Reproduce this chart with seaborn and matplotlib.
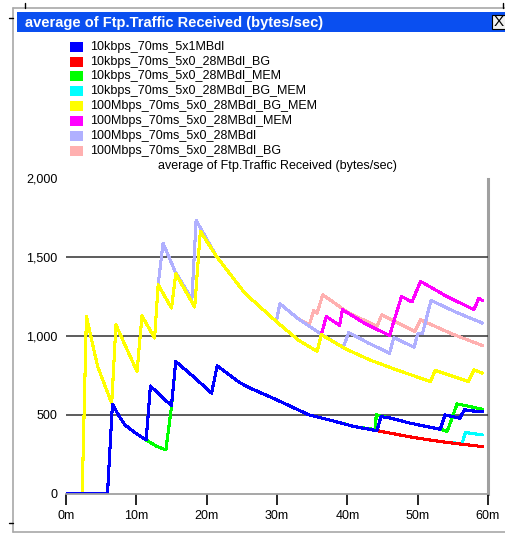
import matplotlib
matplotlib.use("Agg")
import matplotlib.pyplot as plt
from matplotlib.patches import Rectangle
from matplotlib.lines import Line2D
from matplotlib.ticker import FuncFormatter
import seaborn as sns
import pandas as pd

# ---------------------------------------------------------------- data
# time in minutes, traffic in bytes/sec
series_names = [
    "10kbps_70ms_5x1MBdl",
    "10kbps_70ms_5x0_28MBdl_BG",
    "10kbps_70ms_5x0_28MBdl_MEM",
    "10kbps_70ms_5x0_28MBdl_BG_MEM",
    "100Mbps_70ms_5x0_28MBdl_BG_MEM",
    "100Mbps_70ms_5x0_28MBdl_MEM",
    "100Mbps_70ms_5x0_28MBdl",
    "100Mbps_70ms_5x0_28MBdl_BG",
]
series_colors = ["#0000ff", "#ff0000", "#00ff00", "#00ffff",
                 "#ffff00", "#ff00ff", "#b0b0ff", "#ffb0b0"]

kbps_1mb_t = [0, 5.9, 6.6, 7.5, 8.4, 10.0, 11.4, 12.0, 13.3, 15.0, 15.6, 18.1,
              20.7, 21.5, 24.7, 26.2, 30.0, 34.5, 38.3, 41.0, 44.2, 44.8, 46.0,
              49.0, 53.2, 53.9, 56.0, 56.7, 57.2, 59.2]
kbps_1mb_v = [0, 0, 567, 495, 435, 380, 340, 683, 626, 558, 838, 743,
              637, 811, 704, 669, 594, 500, 457, 425, 399, 488, 480,
              446, 408, 499, 478, 535, 526, 520]

kbps_bg_t = [0, 5.9, 6.6, 7.5, 8.4, 10.0, 11.4, 12.0, 13.3, 15.0, 15.6, 18.1,
             20.7, 21.5, 24.7, 26.2, 30.0, 34.5, 38.3, 41.0, 44.2, 46.5, 49.5,
             54.0, 59.2]
kbps_bg_v = [0, 0, 567, 495, 435, 380, 340, 683, 626, 558, 838, 743,
             637, 811, 704, 669, 594, 500, 457, 425, 399, 380, 355,
             325, 298]

kbps_mem_t = [0, 5.9, 6.6, 7.5, 8.4, 10.0, 11.4, 12.9, 14.2, 15.0, 15.6, 18.1,
              20.7, 21.5, 24.7, 26.2, 30.0, 34.5, 38.3, 41.0, 44.0, 44.1, 44.8,
              46.0, 49.0, 53.2, 54.2, 55.6, 56.6, 59.2]
kbps_mem_v = [0, 0, 567, 495, 435, 380, 340, 300, 276, 552, 838, 743,
              637, 811, 704, 669, 594, 500, 457, 425, 405, 500, 490,
              480, 446, 408, 395, 569, 560, 535]

kbps_bg_mem_t = [0, 5.9, 6.6, 7.5, 8.4, 10.0, 11.4, 12.0, 13.3, 15.0, 15.6,
                 18.1, 20.7, 21.5, 24.7, 26.2, 30.0, 34.5, 38.3, 41.0, 44.2,
                 46.5, 49.5, 54.0, 56.3, 56.8, 59.2]
kbps_bg_mem_v = [0, 0, 567, 495, 435, 380, 340, 683, 626, 558, 838,
                 743, 637, 811, 704, 669, 594, 500, 457, 425, 399,
                 380, 355, 325, 317, 387, 372]

mbps_bg_mem_t = [0, 2.3, 2.9, 4.5, 6.5, 7.1, 10.1, 10.8, 12.6, 13.1, 15.0,
                 15.6, 18.3, 19.1, 21.4, 25.4, 29.9, 33.0, 35.7, 36.3, 39.9,
                 43.2, 47.0, 51.8, 52.5, 57.2, 58.0, 59.2]
mbps_bg_mem_v = [0, 0, 1124, 806, 573, 1071, 774, 1128, 987, 1325, 1177,
                 1395, 1184, 1665, 1505, 1273, 1092, 975, 902, 1008, 915,
                 848, 785, 711, 781, 711, 785, 764]

mbps_mem_t = [0, 2.3, 2.9, 4.5, 6.5, 7.1, 10.1, 10.8, 12.6, 13.1, 15.0,
              15.6, 18.3, 19.1, 21.4, 25.4, 29.9, 33.0, 35.7, 36.3, 37.0,
              38.9, 39.3, 42.5, 46.0, 47.7, 49.2, 50.4, 54.0, 58.0, 58.7, 59.2]
mbps_mem_v = [0, 0, 1124, 806, 573, 1071, 774, 1128, 987, 1325, 1177,
              1395, 1184, 1665, 1505, 1273, 1092, 975, 902, 1008, 1124,
              1067, 1167, 1080, 1003, 1251, 1216, 1347, 1255, 1167, 1241, 1224]

mbps_t = [0, 2.3, 2.9, 4.5, 6.5, 7.1, 10.1, 10.8, 12.6, 13.1, 13.8, 15.5,
          17.9, 18.5, 21.4, 25.4, 29.9, 30.4, 33.0, 36.4, 39.4, 40.2, 43.0,
          46.0, 46.6, 49.5, 50.0, 50.7, 51.9, 55.5, 59.2]
mbps_v = [0, 0, 1124, 806, 573, 1071, 774, 1128, 987, 1325, 1590, 1410,
          1234, 1734, 1505, 1273, 1092, 1205, 1110, 1008, 927, 1022, 955,
          891, 990, 929, 1014, 1018, 1226, 1150, 1082]

mbps_bg_t = [0, 2.3, 2.9, 4.5, 6.5, 7.1, 10.1, 10.8, 12.6, 13.1, 13.8, 15.5,
             17.9, 18.5, 21.4, 25.4, 29.9, 30.4, 33.0, 34.6, 35.2, 35.7, 36.5,
             40.0, 44.2, 44.9, 49.6, 50.4, 55.0, 59.2]
mbps_bg_v = [0, 0, 1124, 806, 573, 1071, 774, 1128, 987, 1325, 1590, 1410,
             1234, 1734, 1505, 1273, 1092, 1205, 1110, 1071, 1160, 1145, 1262,
             1152, 1061, 1135, 1029, 1103, 1011, 940]

series_t = [kbps_1mb_t, kbps_bg_t, kbps_mem_t, kbps_bg_mem_t,
            mbps_bg_mem_t, mbps_mem_t, mbps_t, mbps_bg_t]
series_v = [kbps_1mb_v, kbps_bg_v, kbps_mem_v, kbps_bg_mem_v,
            mbps_bg_mem_v, mbps_mem_v, mbps_v, mbps_bg_v]

y_ticks = [0, 500, 1000, 1500, 2000]
x_ticks = [0, 10, 20, 30, 40, 50, 60]
x_labels = ["0m", "10m", "20m", "30m", "40m", "50m", "60m"]
window_title = "average of Ftp.Traffic Received (bytes/sec)"
chart_title = "average of Ftp.Traffic Received (bytes/sec)"

frames = []
for name, t, v in zip(series_names, series_t, series_v):
    frames.append(pd.DataFrame({"series": name, "minutes": t, "traffic": v}))
df = pd.concat(frames, ignore_index=True)

# ---------------------------------------------------------------- figure
sns.set_theme(style="white")
plt.rcParams["font.family"] = ["Liberation Sans", "DejaVu Sans"]

W, H = 506, 535
fig = plt.figure(figsize=(W / 100, H / 100), dpi=100)
fig.patch.set_facecolor("white")


def fx(x):
    return x / W


def fy(y):
    return 1 - y / H


# window frame
fig.add_artist(Line2D([fx(13), fx(506)], [fy(8), fy(8)], color="#a8a8a8", lw=1.2))
fig.add_artist(Line2D([fx(13), fx(13)], [fy(8), fy(532)], color="#a8a8a8", lw=1.2))
fig.add_artist(Line2D([fx(13), fx(506)], [fy(532), fy(532)], color="#a8a8a8", lw=1.2))
for xx in (25, 503):
    fig.add_artist(Line2D([fx(xx), fx(xx)], [fy(3), fy(8)], color="black", lw=1))
fig.add_artist(Line2D([fx(9), fx(13)], [fy(18), fy(18)], color="black", lw=1))
fig.add_artist(Line2D([fx(9), fx(13)], [fy(523), fy(523)], color="black", lw=1))

# title bar
fig.add_artist(Rectangle((fx(17), fy(32)), fx(506) - fx(17), fy(12) - fy(32),
                         facecolor="#0a4ff0", edgecolor="none"))
fig.text(fx(25), fy(22.5), window_title, color="white", fontsize=10.5,
         fontweight="bold", ha="left", va="center")
fig.add_artist(Rectangle((fx(492), fy(29)), fx(506) - fx(492), fy(15) - fy(29),
                         facecolor="#f0f0f0", edgecolor="black", lw=0.8))
fig.text(fx(499), fy(22), "X", color="black", fontsize=11, ha="center",
         va="center")

# legend
for i, (name, col) in enumerate(zip(series_names, series_colors)):
    yc = 46.7 + i * 14.86
    fig.add_artist(Rectangle((fx(70), fy(yc + 5)), fx(83) - fx(70),
                             fy(yc - 5) - fy(yc + 5), facecolor=col,
                             edgecolor="none"))
    fig.text(fx(90), fy(yc), name, fontsize=9, ha="left", va="center",
             color="black")

fig.text(fx(277), fy(166), chart_title, fontsize=9, ha="center", va="center",
         color="black")

# plot area
ax = fig.add_axes([fx(66), fy(493.5), fx(488) - fx(66), fy(178.5) - fy(493.5)])
ax.set_facecolor("white")

# later series first so the earlier ones sit on top where they coincide
for name, col in reversed(list(zip(series_names, series_colors))):
    sub = df[df["series"] == name]
    sns.lineplot(data=sub, x="minutes", y="traffic", ax=ax, color=col,
                 lw=1.5, sort=False, estimator=None, legend=False,
                 antialiased=False)

ax.set_xlim(0, 60)
ax.set_ylim(0, 2000)
ax.set_xlabel("")
ax.set_ylabel("")
ax.set_yticks(y_ticks)
ax.yaxis.set_major_formatter(FuncFormatter(lambda v, p: f"{v:,.0f}"))
ax.set_xticks(x_ticks)
ax.set_xticklabels(x_labels)

ax.grid(axis="y", color="#303030", lw=1.1)
ax.grid(axis="x", visible=False)
gl = ax.get_ygridlines()
gl[0].set_visible(False)
gl[-1].set_visible(False)
ax.set_axisbelow(True)

for s in ("left", "top"):
    ax.spines[s].set_visible(False)
ax.spines["bottom"].set_color("#a0a0a0")
ax.spines["bottom"].set_linewidth(1.3)
ax.spines["right"].set_color("#a0a0a0")
ax.spines["right"].set_linewidth(2.2)
ax.spines["right"].set_zorder(0.5)

ax.tick_params(axis="y", length=0, pad=6, labelsize=9, colors="black")
ax.tick_params(axis="x", length=8, width=1.2, direction="out", pad=4,
               labelsize=9, colors="black", bottom=True)

fig.savefig("out.png", dpi=100)
